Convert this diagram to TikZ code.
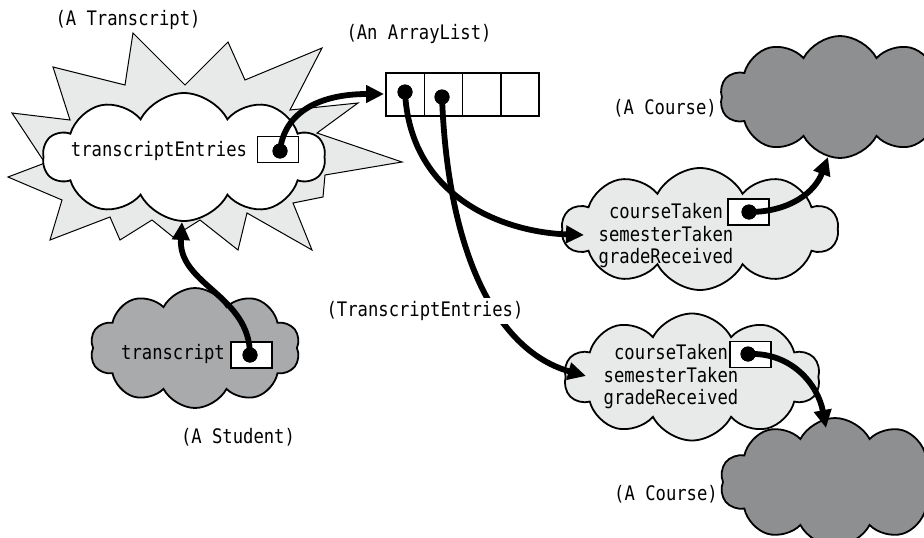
\documentclass[tikz,border=0pt]{standalone}
\usepackage{fontspec}
\setmonofont[FakeStretch=0.86]{DejaVu Sans Mono}
\usetikzlibrary{shapes.symbols,arrows.meta}
\definecolor{lightcl}{HTML}{E8E9E9}
\definecolor{studcl}{HTML}{A9AAAC}
\definecolor{coursecl}{HTML}{8E8F91}
\tikzset{
  cloudbox/.style={cloud, cloud puffs=10, cloud puff arc=125, cloud ignores aspect, draw=black, line width=1.8pt, inner sep=0pt},
  lbl/.style={font=\ttfamily\fontsize{20}{22.5}\selectfont, inner sep=1pt},
  slot/.style={draw=black, line width=1.6pt, fill=white, minimum width=41pt, minimum height=26pt, inner sep=0pt},
  cell/.style={draw=black, line width=1.6pt, fill=white, minimum width=38.3pt, minimum height=43pt, inner sep=0pt},
  dotp/.style={circle, fill=black, minimum size=15pt, inner sep=0pt},
  ref/.style={line width=5.8pt, -{Triangle[length=18pt,width=17pt]}},
}
\begin{document}
\begin{tikzpicture}[x=1pt,y=-1pt]
\useasboundingbox (0,0) rectangle (924,538);
% starburst
\draw[fill=lightcl, line width=1pt, line join=miter]
 (53,67) -- (125,85) -- (133,33) -- (185,85) -- (228,42) -- (245,80) -- (322,48)
 -- (290,110) -- (358,103) -- (317,133) -- (402,162) -- (325,175) -- (323,197)
 -- (293,203) -- (312,250) -- (247,213) -- (238,250) -- (200,220) -- (173,237)
 -- (152,220) -- (120,240) -- (110,217) -- (50,240) -- (62,200) -- (8,177)
 -- (45,163) -- (12,113) -- (70,120) -- cycle;
% clouds
\node[cloudbox, fill=white, minimum width=282pt, minimum height=128pt] (tc) at (184,157) {};
\node[cloudbox, fill=studcl, minimum width=210pt, minimum height=120pt] (sc) at (195,348) {};
\node[cloudbox, fill=coursecl, minimum width=240pt, minimum height=122pt] (c1) at (840,97) {};
\node[cloudbox, fill=lightcl, minimum width=276pt, minimum height=122pt] (te1) at (700,229) {};
\node[cloudbox, fill=lightcl, minimum width=256pt, minimum height=127pt] (te2) at (692,377) {};
\node[cloudbox, fill=coursecl, minimum width=230pt, minimum height=128pt] (c2) at (835,482) {};
% labels
\node[lbl] (lt) at (128,20) {(A Transcript)};
\node[lbl] (la) at (419,34) {(An ArrayList)};
\node[lbl] (lc1) at (665,108) {(A Course)};
\node[lbl] (lc2) at (666,494) {(A Course)};
\node[lbl] (ls) at (238,437) {(A Student)};
% attribute texts
\node[lbl] (tet) at (159,151) {transcriptEntries};
\node[lbl] (st) at (173,354) {transcript};
\node[lbl, align=center] (te1t) at (666,236) {courseTaken\\semesterTaken\\gradeReceived};
\node[lbl, align=center] (te2t) at (671,377) {courseTaken\\semesterTaken\\gradeReceived};
% slots
\node[slot] (s1) at (278,149.5) {};
\node[slot] (s2) at (251.5,355) {};
\node[slot] (s3) at (748.5,212) {};
\node[slot] (s4) at (750.5,354.5) {};
% array
\node[cell] (a1) at (405.2,94.5) {};
\node[cell] (a2) at (443.5,94.5) {};
\node[cell] (a3) at (481.8,94.5) {};
\node[cell] (a4) at (520.1,94.5) {};
% dots
\node[dotp] (d1) at (280,151) {};
\node[dotp] (d2) at (250,355) {};
\node[dotp] (d3) at (749,212) {};
\node[dotp] (d4) at (748,354) {};
\node[dotp] (d5) at (405,92) {};
\node[dotp] (d6) at (442,97) {};
% arrow targets
\coordinate (t1) at (384,94);
\coordinate (t2) at (584,235);
\coordinate (t3) at (586,376);
\coordinate (t4) at (828,157);
\coordinate (t5) at (826,428);
\coordinate (t6) at (182,222);
% connectors
\draw[ref] (d1.center) .. controls (284,112) and (320,94) .. (t1);
\draw[ref] (d5.center) .. controls (410,195) and (500,232) .. (t2);
\draw[ref] (d6.center) .. controls (448,260) and (500,352) .. (t3);
\draw[ref] (d3.center) .. controls (790,212) and (815,192) .. (t4);
\draw[ref] (d4.center) .. controls (792,352) and (818,385) .. (t5);
\draw[ref] (d2.center) .. controls (250,295) and (178,285) .. (t6);
\node[dotp] at (d1) {};
\node[dotp] at (d2) {};
\node[dotp] at (d3) {};
\node[dotp] at (d4) {};
\node[dotp] at (d5) {};
\node[dotp] at (d6) {};
\node[lbl, fill=white, inner sep=3pt] (lte) at (425,311) {(TranscriptEntries)};
\end{tikzpicture}
\end{document}
